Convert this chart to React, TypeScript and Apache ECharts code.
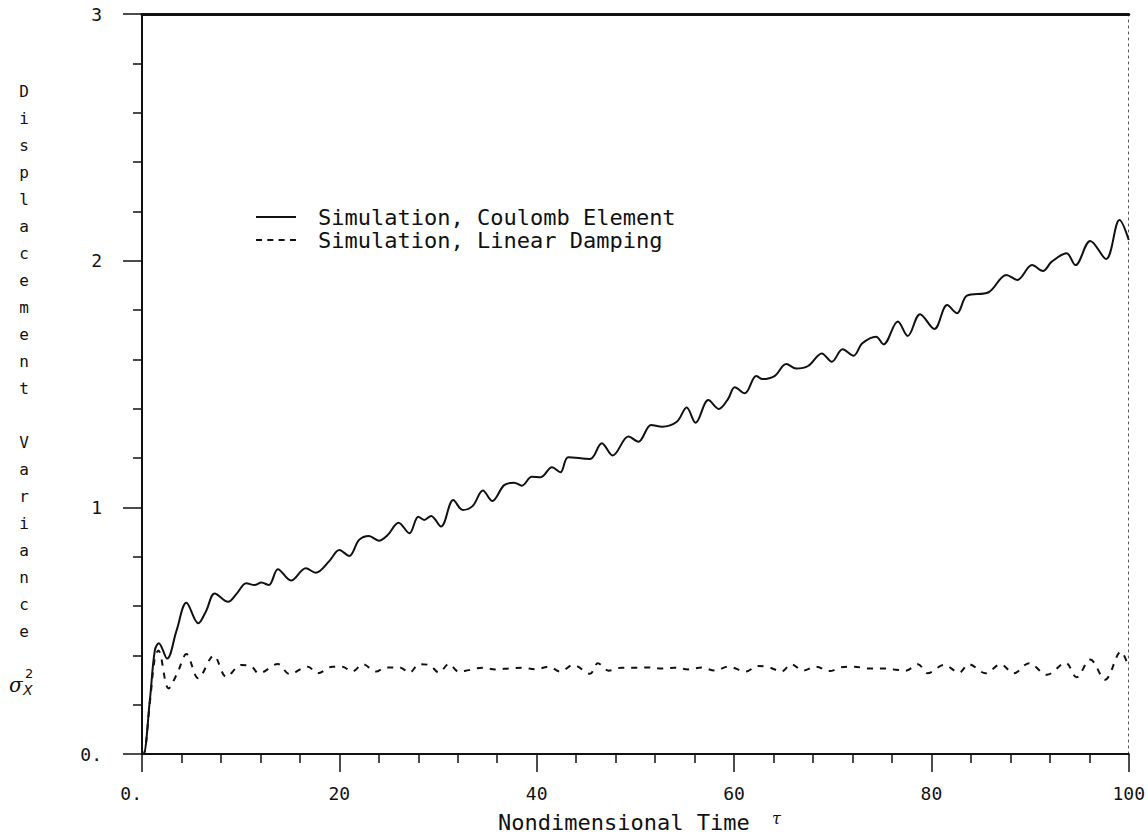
import React, { useEffect, useRef } from "react";
import * as echarts from "echarts";

const tauCoulomb = [0, 0.15, 0.8, 1.3, 1.7, 2.55, 3.5, 4.5, 5.7, 6.5, 7.37, 8.72, 9.6, 10.57, 11.4, 12.1, 12.86, 13.77, 15.1, 16.6, 17.6, 19.0, 20.0, 21.0, 22.0, 23.0, 24.0, 24.9, 26.0, 27.1, 28.0, 28.6, 29.3, 30.3, 31.55, 32.5, 33.5, 34.55, 35.5, 36.7, 37.7, 38.5, 39.5, 40.4, 41.55, 42.4, 43.2, 45.4, 46.6, 47.7, 49.3, 50.3, 51.6, 52.7, 54.2, 55.2, 56.1, 57.4, 58.45, 59.4, 60.07, 61.08, 62.25, 62.9, 64.1, 65.3, 66.3, 67.5, 68.9, 69.9, 71.0, 72.1, 73.0, 74.4, 75.15, 76.6, 77.6, 78.85, 80.3, 81.6, 82.6, 83.6, 85.8, 87.6, 88.7, 90.2, 91.3, 92.2, 93.7, 94.6, 96.1, 97.7, 99.06, 100];
const varCoulomb = [0, 0.0, 0.22, 0.42, 0.449, 0.387, 0.5, 0.613, 0.53, 0.58, 0.651, 0.617, 0.65, 0.692, 0.685, 0.695, 0.685, 0.749, 0.703, 0.753, 0.735, 0.783, 0.827, 0.803, 0.868, 0.884, 0.865, 0.888, 0.938, 0.895, 0.962, 0.949, 0.965, 0.922, 1.03, 0.989, 1.005, 1.068, 1.026, 1.09, 1.1, 1.088, 1.124, 1.122, 1.162, 1.142, 1.203, 1.196, 1.26, 1.21, 1.287, 1.266, 1.334, 1.327, 1.347, 1.405, 1.343, 1.435, 1.399, 1.44, 1.487, 1.462, 1.532, 1.52, 1.532, 1.581, 1.563, 1.573, 1.624, 1.59, 1.641, 1.615, 1.665, 1.692, 1.661, 1.753, 1.695, 1.783, 1.723, 1.82, 1.787, 1.858, 1.872, 1.942, 1.922, 1.982, 1.958, 1.996, 2.03, 1.982, 2.08, 2.007, 2.165, 2.084];

const tauLinear = [0, 0.15, 0.8, 1.3, 1.65, 2.7, 3.6, 4.5, 5.7, 7.27, 8.55, 10.07, 11.1, 11.85, 13.77, 14.95, 16.8, 17.8, 19.3, 20.3, 21.3, 22.4, 23.7, 24.7, 26.1, 27.1, 28.1, 29.1, 30.1, 31.1, 32.1, 33.1, 34.5, 35.8, 37.2, 38.5, 39.9, 41.2, 42.4, 43.7, 45.4, 46.2, 47.3, 48.6, 50.0, 51.3, 52.7, 54.0, 55.35, 56.7, 58.05, 59.4, 61.2, 62.4, 63.6, 64.8, 65.8, 67.0, 68.3, 69.7, 70.8, 72.2, 73.5, 74.9, 76.2, 77.4, 78.65, 79.6, 81.3, 82.8, 83.8, 85.5, 87.0, 88.35, 89.9, 91.7, 93.6, 94.7, 96.1, 97.6, 99.2, 100];
const varLinear = [0, 0.0, 0.21, 0.39, 0.42, 0.266, 0.33, 0.405, 0.307, 0.399, 0.313, 0.361, 0.354, 0.327, 0.365, 0.324, 0.354, 0.327, 0.354, 0.354, 0.334, 0.364, 0.334, 0.351, 0.351, 0.33, 0.364, 0.361, 0.33, 0.365, 0.334, 0.34, 0.35, 0.343, 0.347, 0.35, 0.343, 0.354, 0.334, 0.361, 0.325, 0.368, 0.338, 0.35, 0.35, 0.351, 0.347, 0.35, 0.343, 0.351, 0.338, 0.354, 0.334, 0.357, 0.351, 0.334, 0.364, 0.338, 0.354, 0.336, 0.351, 0.354, 0.347, 0.347, 0.343, 0.338, 0.364, 0.327, 0.361, 0.33, 0.364, 0.327, 0.364, 0.327, 0.368, 0.321, 0.37, 0.311, 0.383, 0.301, 0.415, 0.35];

const seriesNames = ["Simulation, Coulomb Element", "Simulation, Linear Damping"];
const xTickLabels = ["0.", "20", "40", "60", "80", "100"];
const yTickLabels = ["0.", "1", "2", "3"];
const yTitleLetters = ["D", "i", "s", "p", "l", "a", "c", "e", "m", "e", "n", "t", "", "V", "a", "r", "i", "a", "n", "c", "e"];
const xTitle = "Nondimensional Time";

const MONO = '"DejaVu Sans Mono", "Liberation Mono", monospace';
const INK = "#111111";
const SOLID_ICON = "path://M0,0h40v2h-40z";
const DASH_ICON = "path://M0,0h6v2h-6z M11.3,0h6v2h-6z M22.6,0h6v2h-6z M34,0h6v2h-6z";

export default function App() {
  const ref = useRef<HTMLDivElement>(null);
  useEffect(() => {
    if (!ref.current) return;
    const chart = echarts.init(ref.current, undefined, { renderer: "svg" });
    const coulomb = tauCoulomb.map((t, i) => [t, varCoulomb[i]]);
    const linear = tauLinear.map((t, i) => [t, varLinear[i]]);
    chart.setOption({
      animation: false,
      backgroundColor: "#ffffff",
      grid: { left: 142, right: 16, top: 14, bottom: 81, containLabel: false },
      legend: {
        orient: "vertical",
        left: 256,
        top: 206,
        itemWidth: 42,
        itemHeight: 2,
        itemGap: 1,
        padding: 0,
        data: [
          { name: seriesNames[0], icon: SOLID_ICON },
          { name: seriesNames[1], icon: DASH_ICON },
        ],
        itemStyle: { color: INK },
        textStyle: { fontFamily: MONO, fontSize: 22, lineHeight: 22, color: INK, padding: [0, 0, 0, 16] },
      },
      xAxis: [
        {
          type: "value",
          min: 0,
          max: 100,
          interval: 20,
          position: "bottom",
          axisLine: { show: true, onZero: false, lineStyle: { color: INK, width: 2 } },
          axisTick: { show: true, length: 18, lineStyle: { color: INK, width: 1.5 } },
          minorTick: { show: true, splitNumber: 5, length: 9, lineStyle: { color: INK, width: 1.5 } },
          splitLine: { show: false },
          minorSplitLine: { show: false },
          axisLabel: {
            margin: 30,
            fontFamily: MONO,
            fontSize: 18,
            color: INK,
            alignMinLabel: "right",
            formatter: (v: number) => xTickLabels[Math.round(v / 20)] ?? String(v),
          },
        },
        {
          type: "value",
          min: 0,
          max: 100,
          position: "top",
          axisLine: { show: true, onZero: false, lineStyle: { color: INK, width: 3 } },
          axisTick: { show: false },
          axisLabel: { show: false },
          splitLine: { show: false },
        },
      ],
      yAxis: [
        {
          type: "value",
          min: 0,
          max: 3,
          interval: 1,
          position: "left",
          axisLine: { show: true, onZero: false, lineStyle: { color: INK, width: 2 } },
          axisTick: { show: true, length: 19, lineStyle: { color: INK, width: 1.5 } },
          minorTick: { show: true, splitNumber: 5, length: 9, lineStyle: { color: INK, width: 1.5 } },
          splitLine: { show: false },
          minorSplitLine: { show: false },
          axisLabel: {
            margin: 40,
            fontFamily: MONO,
            fontSize: 18,
            color: INK,
            formatter: (v: number) => yTickLabels[Math.round(v)] ?? String(v),
          },
        },
        {
          type: "value",
          min: 0,
          max: 3,
          position: "right",
          axisLine: { show: true, onZero: false, lineStyle: { color: "#555555", width: 1, type: [2, 4] } },
          axisTick: { show: false },
          axisLabel: { show: false },
          splitLine: { show: false },
        },
      ],
      series: [
        {
          name: seriesNames[0],
          type: "line",
          xAxisIndex: 0,
          yAxisIndex: 0,
          data: coulomb,
          symbol: "none",
          smooth: 0.35,
          lineStyle: { color: INK, width: 2 },
          itemStyle: { color: INK },
        },
        {
          name: seriesNames[1],
          type: "line",
          xAxisIndex: 0,
          yAxisIndex: 0,
          data: linear,
          symbol: "none",
          smooth: 0.35,
          lineStyle: { color: INK, width: 2, type: [6, 7] },
          itemStyle: { color: INK },
        },
      ],
      graphic: [
        {
          type: "text",
          x: 24,
          y: 78,
          style: {
            text: yTitleLetters.join("\n"),
            font: `16px ${MONO}`,
            fill: INK,
            textAlign: "center",
            textVerticalAlign: "top",
            verticalAlign: "top",
            lineHeight: 27,
          },
        },
        {
          type: "text",
          x: 9,
          y: 685,
          style: { text: "σ", font: 'italic 20px "DejaVu Serif"', fill: INK, textVerticalAlign: "middle", verticalAlign: "middle" },
        },
        {
          type: "text",
          x: 25,
          y: 673,
          style: { text: "2", font: '13px "DejaVu Sans"', fill: INK, textVerticalAlign: "middle", verticalAlign: "middle" },
        },
        {
          type: "text",
          x: 23,
          y: 690,
          style: { text: "X", font: 'italic 14px "DejaVu Sans"', fill: INK, textVerticalAlign: "middle", verticalAlign: "middle" },
        },
        {
          type: "text",
          x: 498,
          y: 822,
          style: { text: xTitle, font: `22px ${MONO}`, fill: INK, textVerticalAlign: "middle", verticalAlign: "middle" },
        },
        {
          type: "text",
          x: 772,
          y: 818,
          style: { text: "τ", font: 'italic 16px "DejaVu Serif"', fill: INK, textVerticalAlign: "middle", verticalAlign: "middle" },
        },
      ],
    });
    return () => chart.dispose();
  }, []);
  return (
    <div
      ref={ref}
      style={{ position: "fixed", left: 0, top: 0, width: 1148, height: 835, background: "#fff" }}
    />
  );
}
